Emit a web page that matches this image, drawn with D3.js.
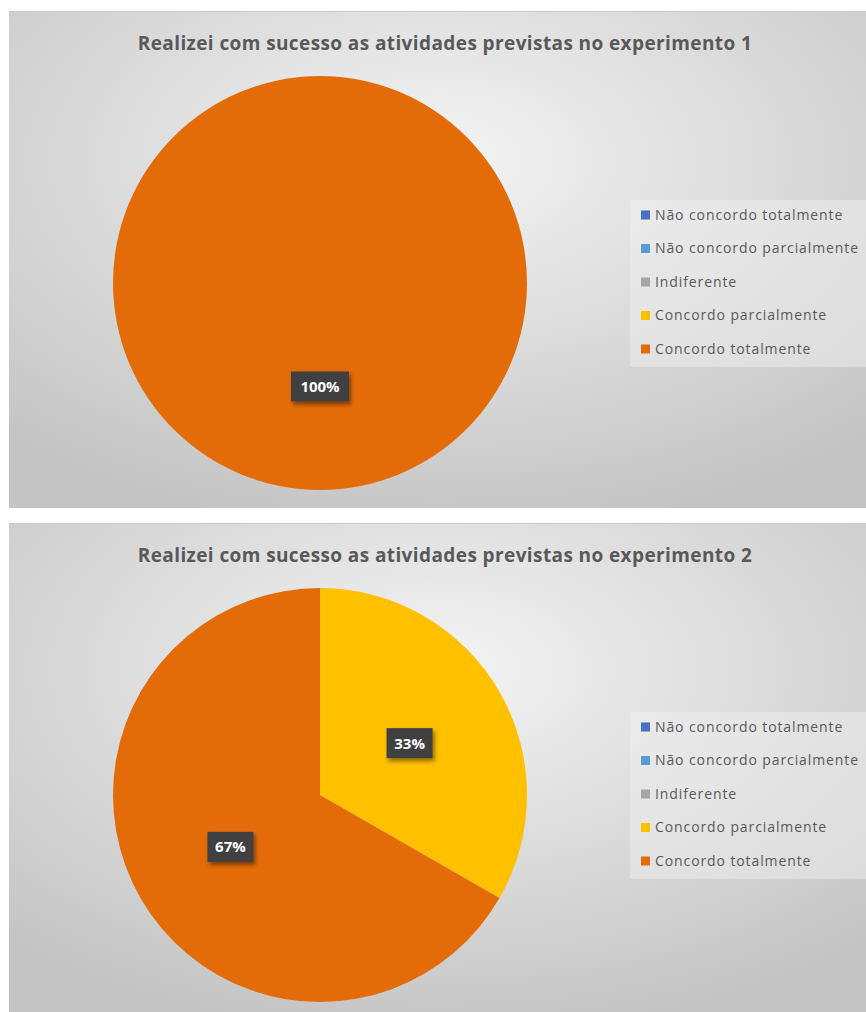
<!DOCTYPE html>
<html>
<head>
<meta charset="utf-8">
<script src="https://cdn.jsdelivr.net/npm/d3@7"></script>
<style>
  body { margin: 0; background: #fff; }
  svg { display: block; }
</style>
</head>
<body>
<div id="chart"></div>
<script>
// Categories and answers (percent of respondents)
var categories = ["Não concordo totalmente", "Não concordo parcialmente", "Indiferente", "Concordo parcialmente", "Concordo totalmente"];
var colors = ["#4472C4", "#5B9BD5", "#A5A5A5", "#FFC000", "#E36C09"];
var titles = ["Realizei com sucesso as atividades previstas no experimento 1",
              "Realizei com sucesso as atividades previstas no experimento 2"];
var values1 = [0, 0, 0, 0, 100];
var values2 = [0, 0, 0, 33.3, 66.7];

var W = 866, H = 1012;
var svg = d3.select("#chart").append("svg")
    .attr("width", W)
    .attr("height", H);

var defs = svg.append("defs");
var grad = defs.append("radialGradient")
    .attr("id", "bg")
    .attr("cx", "50%").attr("cy", "30%").attr("r", "75%");
grad.append("stop").attr("offset", "0%").attr("stop-color", "#f4f4f4");
grad.append("stop").attr("offset", "100%").attr("stop-color", "#c4c4c4");

var shadow = defs.append("filter").attr("id", "shadow")
    .attr("x", "-20%").attr("y", "-20%").attr("width", "150%").attr("height", "160%");
shadow.append("feDropShadow")
    .attr("dx", 2).attr("dy", 3).attr("stdDeviation", 2)
    .attr("flood-color", "#000").attr("flood-opacity", 0.45);

var color = d3.scaleOrdinal().domain(categories).range(colors);

var panels = [
  { top: 11, height: 497, values: values1, title: titles[0] },
  { top: 523, height: 489, values: values2, title: titles[1] }
];

panels.forEach(function(p) {
  var g = svg.append("g").attr("transform", "translate(9," + p.top + ")");
  var pw = W - 9;

  g.append("rect")
      .attr("width", pw)
      .attr("height", p.height)
      .attr("fill", "url(#bg)");
  g.append("line")
      .attr("x1", 0).attr("x2", pw).attr("y1", 0.5).attr("y2", 0.5)
      .attr("stroke", "#c8c8c8");

  g.append("text")
      .attr("x", 436)
      .attr("y", 39)
      .attr("text-anchor", "middle")
      .style("font-family", "'Open Sans', sans-serif")
      .style("font-weight", "bold")
      .style("font-size", "19px")
      .style("letter-spacing", "0.4px")
      .style("fill", "#595959")
      .text(p.title);

  var r = 207;
  var cx = 311, cy = 272;
  var data = categories.map(function(c, i) { return { cat: c, value: p.values[i] }; });

  var pie = d3.pie().sort(null).value(function(d) { return d.value; });
  var arc = d3.arc().innerRadius(0).outerRadius(r);
  var labelArc = d3.arc().innerRadius(r * 0.5).outerRadius(r * 0.5);
  var arcs = pie(data).filter(function(d) { return d.data.value > 0; });

  var pg = g.append("g").attr("transform", "translate(" + cx + "," + cy + ")");
  pg.selectAll("path.slice")
    .data(arcs)
    .enter().append("path")
      .attr("class", "slice")
      .attr("d", arc)
      .attr("fill", function(d) { return color(d.data.cat); });

  var total = d3.sum(p.values);
  var lab = pg.selectAll("g.lab")
    .data(arcs)
    .enter().append("g")
      .attr("class", "lab")
      .attr("transform", function(d) { return "translate(" + labelArc.centroid(d) + ")"; });

  lab.append("rect")
      .attr("x", function(d) { return d.data.value >= 99.5 ? -29 : -23; })
      .attr("y", -15)
      .attr("width", function(d) { return d.data.value >= 99.5 ? 58 : 46; })
      .attr("height", 30)
      .attr("fill", "#404040")
      .attr("filter", "url(#shadow)");
  lab.append("text")
      .attr("text-anchor", "middle")
      .attr("dy", "0.36em")
      .style("font-family", "'Open Sans', sans-serif")
      .style("font-weight", "bold")
      .style("font-size", "15px")
      .style("fill", "#fff")
      .text(function(d) { return d3.format(".0%")(d.data.value / total); });

  // Legend
  var lg = g.append("g").attr("transform", "translate(621,189)");
  lg.append("rect")
      .attr("width", 240)
      .attr("height", 167)
      .attr("fill", "#f2f2f2")
      .attr("fill-opacity", 0.45);
  var item = lg.selectAll("g.item")
    .data(categories)
    .enter().append("g")
      .attr("class", "item")
      .attr("transform", function(d, i) { return "translate(0," + (15 + i * 33.5) + ")"; });
  item.append("rect")
      .attr("x", 11)
      .attr("y", -4.5)
      .attr("width", 9)
      .attr("height", 9)
      .attr("fill", function(d) { return color(d); });
  item.append("text")
      .attr("x", 25)
      .attr("dy", "0.35em")
      .style("font-family", "'Open Sans', sans-serif")
      .style("font-size", "14px")
      .style("letter-spacing", "0.9px")
      .style("fill", "#595959")
      .text(function(d) { return d; });
});
</script>
</body>
</html>
